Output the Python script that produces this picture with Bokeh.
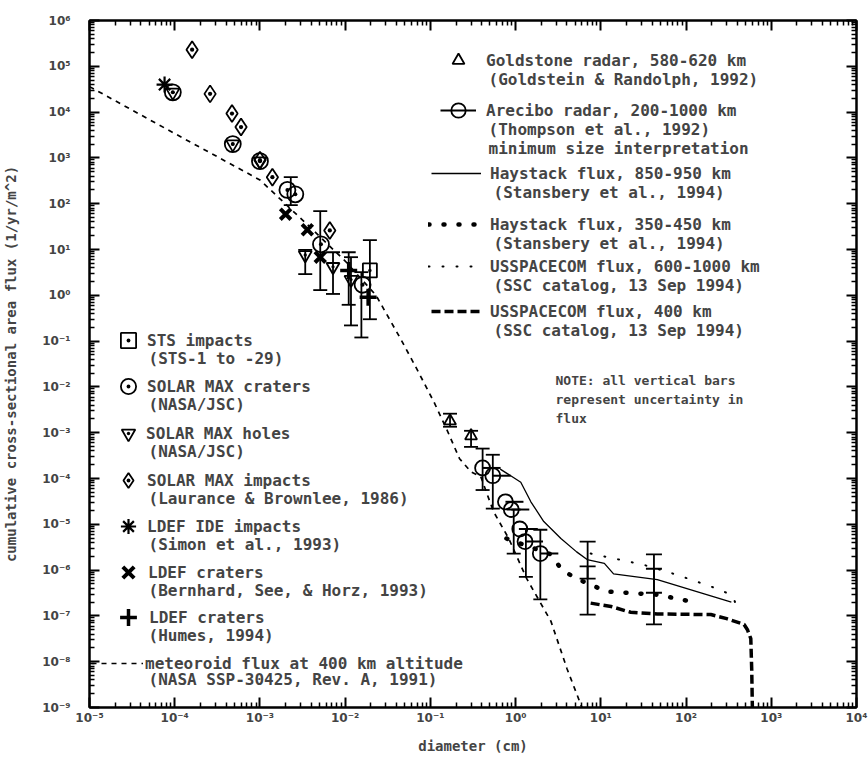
import numpy as np
from bokeh.plotting import figure
from bokeh.models import (ColumnDataSource, Whisker, TeeHead, Legend, LegendItem,
                          FixedTicker, CustomJSTickFormatter, LogAxis, Range1d, Label)
from bokeh.embed import file_html
from bokeh.resources import INLINE

# ---------------- data ----------------
X_TICK_EXPONENTS = [-5, -4, -3, -2, -1, 0, 1, 2, 3, 4]
X_TICK_LABELS = ["10⁻⁵", "10⁻⁴", "10⁻³", "10⁻²", "10⁻¹", "10⁰", "10¹", "10²", "10³", "10⁴"]
Y_TICK_EXPONENTS = [-9, -8, -7, -6, -5, -4, -3, -2, -1, 0, 1, 2, 3, 4, 5, 6]
Y_TICK_LABELS = ["10⁻⁹", "10⁻⁸", "10⁻⁷", "10⁻⁶", "10⁻⁵", "10⁻⁴", "10⁻³", "10⁻²", "10⁻¹",
                 "10⁰", "10¹", "10²", "10³", "10⁴", "10⁵", "10⁶"]

# meteoroid flux at 400 km (NASA SSP-30425)
METEOROID_D = [1e-5, 1e-4, 1e-3, 3.6e-3, 1e-2, 2.3e-2, 4.5e-2, 6.9e-2, 0.11, 0.155, 0.22,
               0.30, 0.39, 0.55, 0.83, 1.35, 2.6, 4.0, 6.0]
METEOROID_F = [3.6e4, 3.4e3, 3.3e2, 35, 5.6, 1.0, 0.11, 2.5e-2, 4.7e-3, 1.2e-3, 2.7e-4,
               1.4e-4, 1.1e-4, 1.9e-5, 4.9e-6, 6.5e-7, 7.6e-8, 7.1e-9, 1e-9]

# Haystack flux 850-950 km
HAY850_D = [0.66, 1.15, 1.51, 2.14, 3.4, 5.2, 6.9, 11.0, 14.1, 46, 340]
HAY850_F = [1.6e-4, 8.3e-5, 3.1e-5, 1.15e-5, 4.9e-6, 2.5e-6, 1.7e-6, 1.4e-6, 8.3e-7, 6.2e-7, 2.0e-7]

# Haystack flux 350-450 km
HAY350_D = [0.78, 2.6, 3.5, 5.2, 11.7, 46, 141]
HAY350_F = [4.9e-6, 2.2e-6, 1.0e-6, 6.5e-7, 3.4e-7, 2.9e-7, 1.9e-7]

# USSPACECOM flux 600-1000 km
SSC600_D = [7.6, 32, 78, 195, 340, 400]
SSC600_F = [2.3e-6, 1.3e-6, 7.9e-7, 4.4e-7, 2.9e-7, 1.6e-7]

# USSPACECOM flux 400 km
SSC400_D = [7.6, 13.2, 22.4, 46, 195, 300, 480, 525, 575, 590, 600]
SSC400_F = [1.9e-7, 1.6e-7, 1.2e-7, 1.1e-7, 1.07e-7, 8.7e-8, 6.5e-8, 5.0e-8, 3.2e-8, 6.3e-9, 1e-9]

# radar error bars (Haystack / USSPACECOM)
RADAR_ERR_D = [7.0, 7.0, 42.0, 42.0]
RADAR_ERR_HI = [4.2e-6, 1.2e-6, 2.2e-6, 1.07e-6]
RADAR_ERR_LO = [6.5e-7, 1.07e-7, 3.2e-7, 6.5e-8]

# Goldstone radar
GOLD_D = [0.17, 0.30]
GOLD_F = [1.8e-3, 8.5e-4]
GOLD_HI = [2.6e-3, 1.1e-3]
GOLD_LO = [1.35e-3, 4.9e-4]

# Arecibo radar
ARE_D = [0.41, 0.54, 0.76, 0.89, 1.12, 1.29, 1.95]
ARE_F = [1.7e-4, 1.15e-4, 3.1e-5, 2.1e-5, 7.9e-6, 4.2e-6, 2.3e-6]
ARE_ERR_D = [0.41, 0.54, 0.95, 1.32, 1.95]
ARE_ERR_HI = [4.5e-4, 3.3e-4, 2.1e-5, 7.9e-6, 7.6e-6]
ARE_ERR_LO = [5.6e-5, 2.2e-5, 2.3e-6, 7.1e-7, 2.3e-7]

# SOLAR MAX impacts (Laurance & Brownlee)
SMI_D = [1.6e-4, 2.6e-4, 4.7e-4, 6.0e-4, 1.0e-3, 1.4e-3, 6.6e-3]
SMI_F = [2.3e5, 2.5e4, 9.3e3, 4.7e3, 890, 380, 26]

# SOLAR MAX craters
SMC_D = [9.5e-5, 4.8e-4, 1.0e-3, 2.1e-3, 2.6e-3, 5.2e-3, 1.6e-2]
SMC_F = [2.7e4, 2.0e3, 850, 200, 160, 13, 1.7]
SMC_ERR_D = [2.3e-3, 5.1e-3]
SMC_ERR_HI = [380, 69]
SMC_ERR_LO = [93, 1.3]

# SOLAR MAX holes
SMH_D = [9.5e-5, 4.8e-4, 1.0e-3, 3.4e-3, 7.2e-3, 1.17e-2]
SMH_F = [2.7e4, 2.0e3, 850, 7.6, 4.2, 2.2]
SMH_ERR_D = [3.4e-3, 7.2e-3, 1.17e-2, 1.55e-2]
SMH_ERR_HI = [9.8, 8.7, 6.8, 3.2]
SMH_ERR_LO = [2.9, 1.07, 0.22, 0.12]

# LDEF IDE impacts
IDE_D = [7.6e-5]
IDE_F = [4.0e4]

# LDEF craters (Bernhard, See & Horz)
BER_D = [2.0e-3, 3.6e-3, 5.1e-3]
BER_F = [59, 27, 6.8]

# LDEF craters (Humes)
HUM_D = [1.1e-2, 1.86e-2]
HUM_F = [3.5, 0.91]
HUM_ERR_D = [1.1e-2]
HUM_ERR_HI = [8.7]
HUM_ERR_LO = [0.62]

# STS impacts
STS_D = [1.95e-2]
STS_F = [3.5]
STS_ERR_D = [1.95e-2]
STS_ERR_HI = [16]
STS_ERR_LO = [0.3]

# ---------------- figure ----------------
MONO = "DejaVu Sans Mono"
FL, FT, FR, FB = 86, 20, 856, 707      # frame edges on the page
W, H = 868, 757

p = figure(width=W, height=H, x_axis_type="log", y_axis_type="log",
           x_range=Range1d(1e-5, 1e4), y_range=Range1d(1e-9, 1e6),
           output_backend="svg", toolbar_location=None,
           min_border_left=FL, min_border_right=W - FR, min_border_top=FT,
           min_border_bottom=H - FB)
p.xgrid.visible = False
p.ygrid.visible = False
p.outline_line_color = "black"
p.outline_line_width = 2
p.background_fill_color = "white"
p.border_fill_color = "white"


def make_ticker(exps):
    minor = [m * 10.0 ** e for e in exps[:-1] for m in range(2, 10)]
    return FixedTicker(ticks=[10.0 ** e for e in exps], minor_ticks=minor)


def make_formatter(exps, labels):
    return CustomJSTickFormatter(args=dict(exps=exps, labels=labels), code="""
        const e = Math.round(Math.log10(tick));
        const i = exps.indexOf(e);
        return i >= 0 ? labels[i] : '';
    """)


def style_axis(ax):
    ax.axis_line_width = 2
    ax.major_tick_in = 10
    ax.major_tick_out = 0
    ax.minor_tick_in = 5
    ax.minor_tick_out = 0
    ax.major_tick_line_width = 2
    ax.minor_tick_line_width = 1.5
    ax.major_label_text_font = "DejaVu Sans"
    ax.major_label_text_font_style = "bold"
    ax.major_label_text_font_size = "12px"
    ax.axis_label_text_font = MONO
    ax.axis_label_text_font_style = "bold"
    ax.axis_label_text_font_size = "14px"


xt = make_ticker(X_TICK_EXPONENTS)
yt = make_ticker(Y_TICK_EXPONENTS)

p.xaxis.ticker = xt
p.yaxis.ticker = yt
p.xaxis.formatter = make_formatter(X_TICK_EXPONENTS, X_TICK_LABELS)
p.yaxis.formatter = make_formatter(Y_TICK_EXPONENTS, Y_TICK_LABELS)
style_axis(p.xaxis[0])
style_axis(p.yaxis[0])
p.xaxis.axis_label = "diameter (cm)"
p.yaxis.axis_label = "cumulative cross-sectional area flux (1/yr/m^2)"
p.xaxis.major_label_standoff = 3
p.xaxis.axis_label_standoff = 10
p.yaxis.major_label_standoff = 19
p.yaxis.axis_label_standoff = 20

blank = CustomJSTickFormatter(code="return '';")
top = LogAxis(ticker=xt, formatter=blank)
right = LogAxis(ticker=yt, formatter=blank)
style_axis(top)
style_axis(right)
for ax in (top, right):
    ax.major_label_text_font_size = "1px"
    ax.major_label_standoff = 0
p.add_layout(top, "above")
p.add_layout(right, "right")

K = "black"

# ---------------- lines ----------------
r_met = p.line(METEOROID_D, METEOROID_F, line_color=K, line_width=1.7, line_dash="5 5")
r_h850 = p.line(HAY850_D, HAY850_F, line_color=K, line_width=1.3)
r_h350 = p.line(HAY350_D, HAY350_F, line_color=K, line_width=4.5, line_dash="1 14",
                line_cap="round")
r_s600 = p.line(SSC600_D, SSC600_F, line_color=K, line_width=2, line_dash="1 13",
                line_cap="round")
r_s400 = p.line(SSC400_D, SSC400_F, line_color=K, line_width=3.5, line_dash="9 4")


# ---------------- error bars ----------------
def whisk(d, hi, lo, size=13):
    src = ColumnDataSource(dict(x=d, hi=hi, lo=lo))
    w = Whisker(base="x", upper="hi", lower="lo", source=src, dimension="height",
                line_color=K, line_width=1.8,
                upper_head=TeeHead(size=size, line_color=K, line_width=1.8),
                lower_head=TeeHead(size=size, line_color=K, line_width=1.8))
    p.add_layout(w)


whisk(RADAR_ERR_D, RADAR_ERR_HI, RADAR_ERR_LO, 16)
whisk(GOLD_D, GOLD_HI, GOLD_LO, 14)
whisk(ARE_ERR_D, ARE_ERR_HI, ARE_ERR_LO, 14)
whisk(SMC_ERR_D, SMC_ERR_HI, SMC_ERR_LO, 14)
whisk(SMH_ERR_D, SMH_ERR_HI, SMH_ERR_LO, 14)
whisk(HUM_ERR_D, HUM_ERR_HI, HUM_ERR_LO, 14)
whisk(STS_ERR_D, STS_ERR_HI, STS_ERR_LO, 14)

# ---------------- markers ----------------
common = dict(line_color=K, fill_color=None, line_width=1.8)
r_smi = p.scatter(SMI_D, SMI_F, marker="diamond_dot", size=17, **common)
r_smc = p.scatter(SMC_D, SMC_F, marker="circle_dot", size=16, **common)
r_smh = p.scatter(SMH_D, SMH_F, marker="inverted_triangle", size=13, **common)
r_smh_dot = p.scatter(SMH_D, SMH_F, marker="dot", size=13, line_color=K, fill_color=K)
r_ide = p.scatter(IDE_D, IDE_F, marker="asterisk", size=16, line_color=K, line_width=2.2)
r_ber = p.scatter(BER_D, BER_F, marker="x", size=15, line_color=K, line_width=4)
r_hum = p.scatter(HUM_D, HUM_F, marker="cross", size=17, line_color=K, line_width=3.5)
r_sts = p.scatter(STS_D, STS_F, marker="square_dot", size=14, **common)
r_gold = p.scatter(GOLD_D, GOLD_F, marker="triangle", size=12, **common)
r_are_c = p.scatter(ARE_D, ARE_F, marker="circle", size=15, **common)
r_are_r = p.ray(ARE_D, ARE_F, length=18, length_units="screen", angle=0,
                line_color=K, line_width=2)


# ---------------- keys (one small legend per entry) ----------------
def key(renderers, lines, gx, gy, gw, gh, tx, tx2, gap=18, size="16px"):
    """gx: glyph centre (page px), gy: first text line centre, tx: text start,
    tx2: start of the following lines."""
    lg = Legend(items=[LegendItem(label=lines[0], renderers=renderers)],
                location=(gx - gw / 2 - FL, FB - (gy + gh / 2)),
                glyph_width=gw, glyph_height=gh,
                label_standoff=int(round(tx - (gx + gw / 2))),
                padding=0, margin=0, border_line_color=None, background_fill_alpha=0,
                label_text_font=MONO, label_text_font_style="bold",
                label_text_font_size=size, label_height=gh)
    p.add_layout(lg)
    for i, t in enumerate(lines[1:]):
        p.add_layout(Label(x=tx2 - FL, y=FB - (gy + (i + 1) * gap), x_units="screen",
                           y_units="screen", text=t, text_font=MONO,
                           text_font_style="bold", text_font_size=size,
                           text_baseline="middle", text_align="left"))


# left column
key([r_sts], ["STS impacts", "(STS-1 to -29)"], 125, 340, 38, 38, 143, 145)
key([r_smc], ["SOLAR MAX craters", "(NASA/JSC)"], 125, 386, 38, 38, 143, 145)
key([r_smh, r_smh_dot], ["SOLAR MAX holes", "(NASA/JSC)"], 125, 433, 34, 34, 143, 145)
key([r_smi], ["SOLAR MAX impacts", "(Laurance & Brownlee, 1986)"], 125, 480, 38, 38, 143, 145)
key([r_ide], ["LDEF IDE impacts", "(Simon et al., 1993)"], 125, 526, 38, 38, 143, 145)
key([r_ber], ["LDEF craters", "(Bernhard, See, & Horz, 1993)"], 125, 572, 40, 40, 143, 145)
key([r_hum], ["LDEF craters", "(Humes, 1994)"], 125, 617, 42, 42, 143, 145)
key([r_met], ["meteoroid flux at 400 km altitude", "(NASA SSP-30425, Rev. A, 1991)"],
    114, 663, 52, 30, 142, 145, gap=16)

# right column
key([r_gold], ["Goldstone radar, 580-620 km", "(Goldstein & Randolph, 1992)"],
    455, 60, 30, 30, 483, 485, gap=19)
key([r_are_c, r_are_r], ["Arecibo radar, 200-1000 km", "(Thompson et al., 1992)",
                         "minimum size interpretation"], 455, 110, 36, 36, 483, 485, gap=19)
key([r_h850], ["Haystack flux, 850-950 km", "(Stansbery et al., 1994)"],
    453, 173, 50, 24, 487, 490, gap=19)
key([r_h350], ["Haystack flux, 350-450 km", "(Stansbery et al., 1994)"],
    450, 224, 50, 24, 487, 490, gap=19)
key([r_s600], ["USSPACECOM flux, 600-1000 km", "(SSC catalog, 13 Sep 1994)"],
    450, 266, 50, 24, 487, 490, gap=19)
key([r_s400], ["USSPACECOM flux, 400 km", "(SSC catalog, 13 Sep 1994)"],
    453, 311, 50, 24, 487, 490, gap=19)

# note
for i, line in enumerate(["NOTE:  all vertical bars", "represent uncertainty in", "flux"]):
    p.add_layout(Label(x=552 - FL, y=FB - (380 + 19 * i), x_units="screen", y_units="screen",
                       text=line, text_font=MONO, text_font_style="bold",
                       text_font_size="13px", text_baseline="middle"))

open("out.html", "w").write(file_html(p, INLINE))
